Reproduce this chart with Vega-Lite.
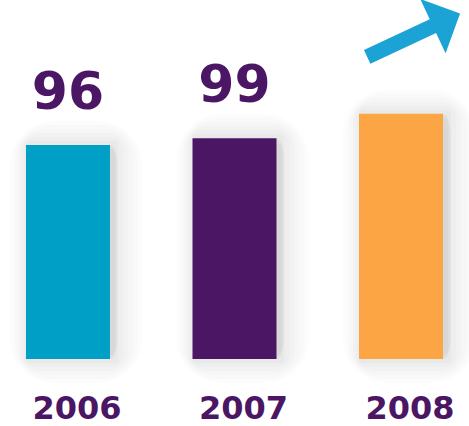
{
  "$schema": "https://vega.github.io/schema/vega-lite/v6.json",
  "width": 469,
  "height": 359,
  "autosize": {"type": "none"},
  "padding": {"left": 0, "top": 0, "right": 0, "bottom": 67},
  "background": "#ffffff",
  "config": {"view": {"stroke": null}, "font": "DejaVu Sans"},
  "data": {"values": [
    {"year": "2006", "value": 96, "label": "96", "color": "#00a0c6"},
    {"year": "2007", "value": 99, "label": "99", "color": "#4b1664"},
    {"year": "2008", "value": 110, "label": "", "color": "#fba544"}
  ]},
  "encoding": {
    "x": {
      "field": "year", "type": "nominal",
      "scale": {"paddingInner": 0.4955, "paddingOuter": 0.156},
      "axis": {
        "title": null, "domain": false, "ticks": false, "grid": false,
        "labelFont": "DejaVu Sans", "labelFontWeight": "bold", "labelFontSize": 32,
        "labelColor": "#4b1664", "labelPadding": 34, "labelOffset": 9, "labelAngle": 0
      }
    },
    "y": {
      "field": "value", "type": "quantitative",
      "scale": {"domain": [0, 161], "nice": false},
      "axis": null
    }
  },
  "layer": [
    {"mark": {"type": "bar", "fill": null, "stroke": "#000000", "strokeOpacity": 0.012, "strokeWidth": 48, "strokeJoin": "round", "cornerRadius": 20, "xOffset": 8}},
    {"mark": {"type": "bar", "fill": null, "stroke": "#000000", "strokeOpacity": 0.012, "strokeWidth": 40, "strokeJoin": "round", "cornerRadius": 16, "xOffset": 8}},
    {"mark": {"type": "bar", "fill": null, "stroke": "#000000", "strokeOpacity": 0.012, "strokeWidth": 32, "strokeJoin": "round", "cornerRadius": 12, "xOffset": 7}},
    {"mark": {"type": "bar", "fill": null, "stroke": "#000000", "strokeOpacity": 0.014, "strokeWidth": 24, "strokeJoin": "round", "cornerRadius": 8, "xOffset": 6}},
    {"mark": {"type": "bar", "fill": null, "stroke": "#000000", "strokeOpacity": 0.016, "strokeWidth": 16, "strokeJoin": "round", "cornerRadius": 4, "xOffset": 5}},
    {"mark": {"type": "bar", "fill": null, "stroke": "#000000", "strokeOpacity": 0.02, "strokeWidth": 8, "strokeJoin": "round", "xOffset": 4}},
    {"mark": {"type": "bar"}, "encoding": {"color": {"field": "color", "type": "nominal", "scale": null}}},
    {"mark": {"type": "text", "font": "DejaVu Sans", "fontWeight": "bold", "fontSize": 52, "color": "#4b1664", "baseline": "alphabetic", "dy": -36},
     "encoding": {"text": {"field": "label"}}},
    {"transform": [{"filter": "datum.year == '2008'"}],
     "mark": {"type": "text", "text": "➞", "font": "DejaVu Sans", "fontSize": 140, "color": "#1aa3d4", "angle": -25, "baseline": "middle", "dy": -64, "dx": 44}}
  ]
}
